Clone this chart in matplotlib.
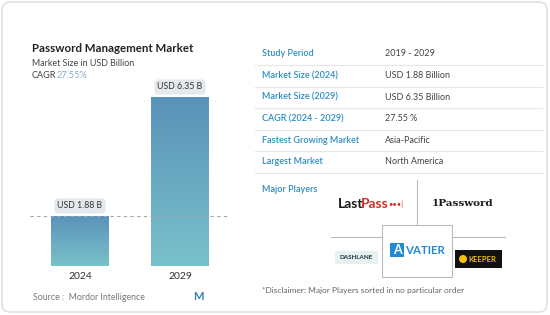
import numpy as np
import matplotlib
matplotlib.use("Agg")
import matplotlib.pyplot as plt
from matplotlib.patches import FancyBboxPatch, Rectangle
from matplotlib.colors import LinearSegmentedColormap

plt.rcParams['font.family'] = ['Lato', 'DejaVu Sans']

years = ["2024", "2029"]
market_size = [1.88, 6.35]
bar_labels = ["USD 1.88 B", "USD 6.35 B"]
cagr = "27.55%"

table_keys = ["Study Period", "Market Size (2024)", "Market Size (2029)",
              "CAGR (2024 - 2029)", "Fastest Growing Market", "Largest Market"]
table_vals = ["2019 - 2029", "USD 1.88 Billion", "USD 6.35 Billion",
              "27.55 %", "Asia-Pacific", "North America"]

W, H = 550, 315
fig = plt.figure(figsize=(5.5, 3.15), dpi=100)
fig.patch.set_facecolor("white")

# full-figure overlay in pixel coordinates
ov = fig.add_axes([0, 0, 1, 1])
ov.set_xlim(0, W)
ov.set_ylim(H, 0)
ov.axis("off")

ov.add_patch(FancyBboxPatch((2, 2), W - 5, H - 5, boxstyle="round,pad=0,rounding_size=8",
                            fc="white", ec="#e2e2e2", lw=1.2))

# titles
ov.text(32, 48, "Password Management Market", fontsize=8.3, fontweight="bold", color="#222222", va="center")
ov.text(32, 63, "Market Size in USD Billion", fontsize=6.4, color="#444444", va="center")
ov.text(32, 76, "CAGR", fontsize=6.6, color="#444444", va="center")
ov.text(57, 76, cagr, fontsize=6.6, color="#86aed0", va="center")

# bar chart
x0, x1, ybot, ytop = 30, 230, 266, 40
ax = fig.add_axes([x0 / W, 1 - ybot / H, (x1 - x0) / W, (ybot - ytop) / H])
ax.axis("off")

cmap = LinearSegmentedColormap.from_list("g", ["#78c1ca", "#5b92b9"])
pos = np.arange(len(years))
bars = ax.bar(pos, market_size, width=0.58, color="none")
grad = np.linspace(0, 1, 256).reshape(-1, 1)
for b in bars:
    bx, by, bw, bh = b.get_x(), b.get_y(), b.get_width(), b.get_height()
    im = ax.imshow(grad, cmap=cmap, extent=[bx, bx + bw, by, by + bh], origin="lower",
                   aspect="auto", zorder=2)
    im.set_clip_path(b)
ax.set_xlim(-0.5, 1.5)
ax.set_ylim(0, (ybot - ytop) / 26.6)

ax.axhline(market_size[0], color="#9aa7b0", lw=0.8, ls=(0, (3, 3)), zorder=3)

for p, v, lab in zip(pos, market_size, bar_labels):
    ax.text(p, v + 0.38, lab, ha="center", va="center", fontsize=6.3, color="#333333", zorder=4,
            bbox=dict(boxstyle="round,pad=0.35,rounding_size=0.5", fc="#e4e9ed", ec="none"))
    ax.text(p, -0.38, years[p], ha="center", va="center", fontsize=7.5, color="#333333", clip_on=False)

ov.text(33, 297, "Source :  Mordor Intelligence", fontsize=6.3, color="#777777", va="center")
ov.text(198, 296, "M", fontsize=8, fontweight="bold", color="#2c7fb0", ha="center", va="center")

# right-hand table
for i, (k, v) in enumerate(zip(table_keys, table_vals)):
    y = 54 + i * 21.6
    ov.text(262, y, k, fontsize=6.5, color="#2a8cc2", va="center", fontweight="semibold")
    ov.text(385, y, v, fontsize=6.5, color="#444444", va="center")
    ov.plot([255, 542], [y + 11, y + 11], color="#e6e6e6", lw=0.8)

ov.text(262, 189, "Major Players", fontsize=6.5, color="#2a8cc2", va="center", fontweight="semibold")

# player logos
ov.plot([417, 417], [180, 225], color="#bbbbbb", lw=0.8)
ov.plot([331, 382], [237, 237], color="#bbbbbb", lw=0.8)
ov.plot([452, 505], [237, 237], color="#bbbbbb", lw=0.8)
ov.add_patch(Rectangle((382, 225), 70, 52, fc="white", ec="#bbbbbb", lw=0.8))

ov.text(338, 204, "Last", fontsize=10, fontweight="bold", color="#1a1a1a", va="center")
ov.text(361, 204, "Pass", fontsize=10, fontweight="bold", color="#d32d27", va="center")
ov.text(388.5, 204, "•••|", fontsize=5.5, color="#d32d27", va="center")
ov.text(432, 203, "1Password", fontsize=7.5, fontweight="bold", color="#1a1a1a", va="center",
        family=["DejaVu Serif"])

ov.add_patch(Rectangle((335, 251), 43, 13, fc="#e8f0f0", ec="none"))
ov.text(356, 257.5, "DASHLANE", fontsize=4.5, fontweight="bold", color="#0e353d", ha="center", va="center")

ov.add_patch(Rectangle((390, 243), 14, 14, fc="#1f8bd6", ec="none"))
ov.text(397, 250, "A", fontsize=9, fontweight="bold", color="white", ha="center", va="center")
ov.text(405, 251, "VATIER", fontsize=8.3, fontweight="bold", color="#1f8bd6", ha="left", va="center")

ov.add_patch(Rectangle((455, 250), 47, 18, fc="#111111", ec="none"))
ov.text(482, 259, "KEEPER", fontsize=5.5, fontweight="bold", color="#f2c200", ha="center", va="center")
ov.add_patch(plt.Circle((463, 259), 4, fc="#f2c200", ec="none"))

ov.text(262, 290, "*Disclaimer: Major Players sorted in no particular order", fontsize=6, color="#666666", va="center")

fig.savefig("out.png", dpi=100)
